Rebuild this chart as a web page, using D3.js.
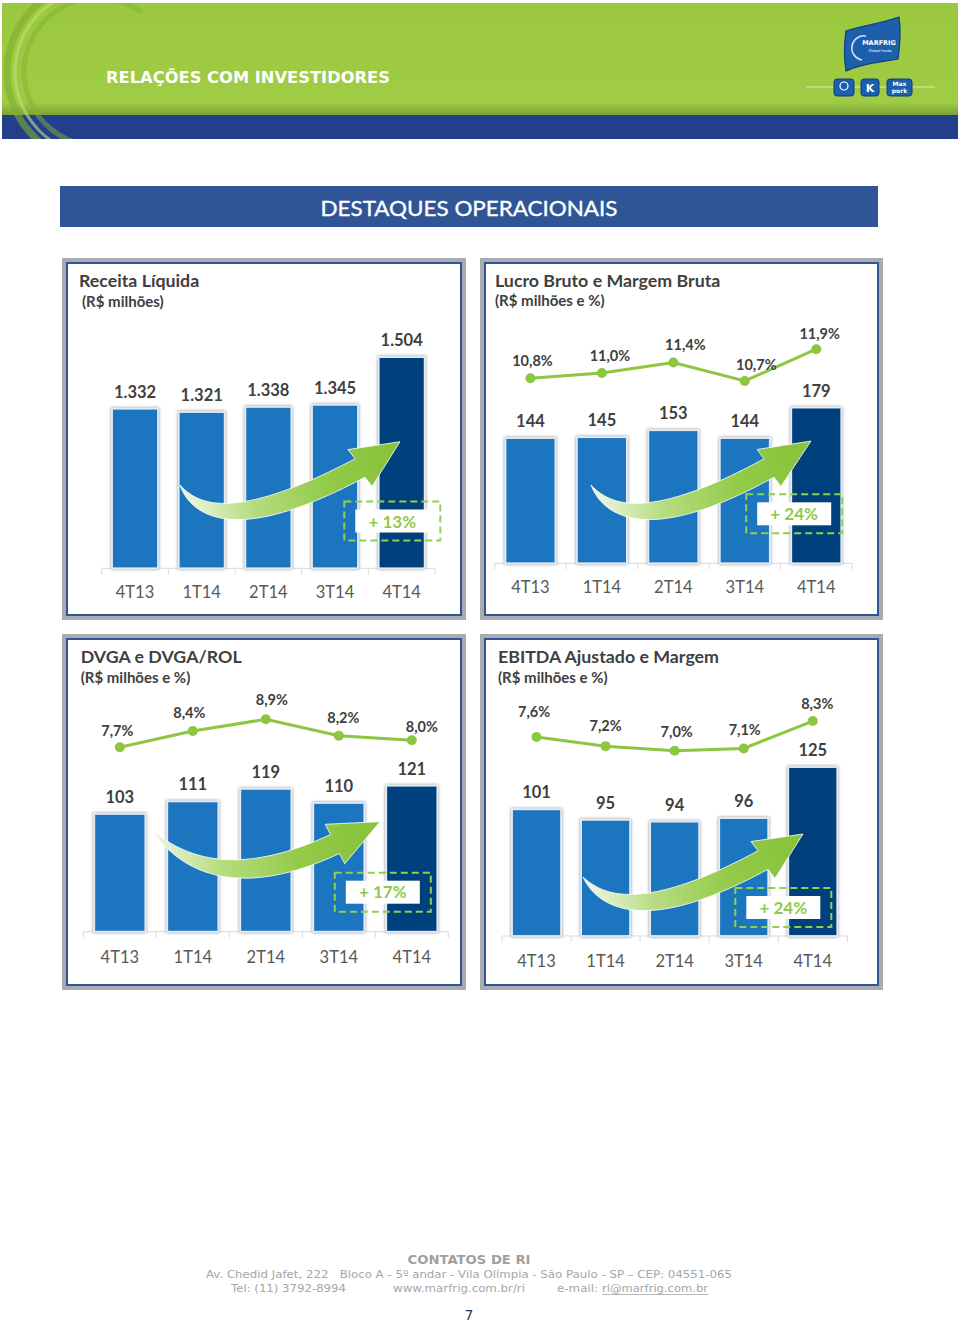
<!DOCTYPE html>
<html><head><meta charset="utf-8">
<script src="https://cdn.jsdelivr.net/npm/d3@7"></script>
<style>body{margin:0;background:#fff}svg{display:block}</style>
</head><body>
<svg id="c" width="960" height="1326"></svg>
<script>
// ---------- DATA ----------
const quarters = ["4T13", "1T14", "2T14", "3T14", "4T14"];
const receitaLiquida = [1332, 1321, 1338, 1345, 1504];
const lucroBruto = [144, 145, 153, 144, 179];
const margemBruta = [10.8, 11.0, 11.4, 10.7, 11.9];
const dvga = [103, 111, 119, 110, 121];
const dvgaRol = [7.7, 8.4, 8.9, 8.2, 8.0];
const ebitdaAjustado = [101, 95, 94, 96, 125];
const margemEbitda = [7.6, 7.2, 7.0, 7.1, 8.3];
const growthLabels = ["+ 13%", "+ 24%", "+ 17%", "+ 24%"];
const panelTitles = ["Receita Líquida", "Lucro Bruto e Margem Bruta", "DVGA e DVGA/ROL", "EBITDA Ajustado e Margem"];
const panelSubtitles = ["(R$ milhões)", "(R$ milhões e %)", "(R$ milhões e %)", "(R$ milhões e %)"];

// ---------- LAYOUT ----------
const layout = [
  {box:[62,258,404,362], tx:79, ty:287, sx:82, sy:307, ax:[101.7,435], base:568.3, dom:[800,1600], k:0.3, pad:0.31, catY:598,
   arrow:{T:[180,485],C:[215,545],H:[360,468],P:[400,441.7]}, boxC:[392.3,521], txtY:528.3},
  {box:[480,258,403,362], tx:495, ty:287, sx:495, sy:306, ax:[494.7,852], base:563.3, dom:[0,200], k:0.87, pad:0.3, catY:593.3,
   line:{dom:[10,12], range:[399.4,346.6], off:[[2,-12.6],[8,-12],[12,-12.5],[11.5,-11],[3.4,-10.3]]},
   arrow:{T:[591,485],C:[628,545],H:[769,468],P:[811,441]}, boxC:[794.2,513.8], txtY:520},
  {box:[62,634,404,356], tx:80.7, ty:663.3, sx:80.7, sy:683.3, ax:[83.3,448.3], base:931.7, dom:[28,128], k:1.57, pad:0.3, catY:963.3,
   line:{dom:[7,9], range:[763.6,717.0], off:[[-2.5,-11.3],[-3.5,-12.7],[6,-14.3],[4.5,-12.3],[10,-8.6]]},
   arrow:{T:[152,830],C:[215,900],H:[335,844],P:[380,821.7]}, boxC:[382.8,892.2], txtY:898.3},
  {box:[480,634,403,356], tx:498, ty:663.3, sx:498, sy:683.3, ax:[502,847.3], base:936, dom:[29,129], k:1.76, pad:0.29, catY:967.3,
   line:{dom:[7,9], range:[750.7,705.1], off:[[-2.5,-20],[0,-15],[2,-14],[1,-13.3],[4.5,-11.7]]},
   arrow:{T:[583,877],C:[625,935],H:[763,860],P:[803,834]}, boxC:[783.3,907.5], txtY:914}
];
const barSeries = [receitaLiquida, lucroBruto, dvga, ebitdaAjustado];
const lineSeries = [null, margemBruta, dvgaRol, margemEbitda];

const loc = d3.formatLocale({decimal:",", thousands:".", grouping:[3], currency:["R$",""]});
const fmtInt = loc.format(",d");
const fmtPct = v => loc.format(".1f")(v) + "%";

const svg = d3.select("#c");
const defs = svg.append("defs");

// ---------- HEADER ----------
const hg = defs.append("linearGradient").attr("id","hdr").attr("x1",0).attr("y1",0).attr("x2",0).attr("y2",1);
hg.append("stop").attr("offset",0).attr("stop-color","#9ac83e");
hg.append("stop").attr("offset",0.88).attr("stop-color","#9fcc44");
hg.append("stop").attr("offset",1).attr("stop-color","#7a9f35");
svg.append("rect").attr("x",2).attr("y",3).attr("width",956).attr("height",113).attr("fill","url(#hdr)");
svg.append("rect").attr("x",2).attr("y",115).attr("width",956).attr("height",24).attr("fill","#233f8b");

defs.append("clipPath").attr("id","hclip").append("rect").attr("x",2).attr("y",3).attr("width",956).attr("height",136);
const arcG = svg.append("g").attr("clip-path","url(#hclip)").append("g").attr("transform","translate(98,72)");
const arcs = [
  {r:91, w:7, s:0.95*Math.PI, e:2.1*Math.PI, c:"#7fae30", o:0.6},
  {r:83, w:3, s:0.95*Math.PI, e:2.15*Math.PI, c:"#c2e07c", o:0.6},
  {r:74, w:5, s:0.9*Math.PI, e:2.2*Math.PI, c:"#82b332", o:0.5}
];
arcs.forEach(a => {
  arcG.append("path").attr("d", d3.arc()({innerRadius:a.r-a.w/2, outerRadius:a.r+a.w/2, startAngle:a.s, endAngle:a.e}))
    .attr("fill", a.c).attr("opacity", a.o);
});
svg.append("rect").attr("x",0).attr("y",0).attr("width",960).attr("height",3).attr("fill","#fff");

svg.append("text").attr("x",106).attr("y",83).text("RELAÇÕES COM INVESTIDORES")
  .attr("font-family","DejaVu Sans").attr("font-weight","bold").attr("font-size",16)
  .attr("fill","#fff").attr("textLength",284).attr("lengthAdjust","spacingAndGlyphs");

// logo
const lg = svg.append("g");
lg.append("line").attr("x1",806).attr("x2",935).attr("y1",87).attr("y2",87).attr("stroke","#d8ecb4").attr("stroke-width",1);
lg.append("path").attr("d","M846,31 C862,26 882,23 899,17 C901,30 900,45 898,59 C882,62 862,63 846,71 C844,58 844,44 846,31 Z")
  .attr("fill","#1d5fad").attr("stroke","#0e3f7f").attr("stroke-width",1.2);
lg.append("path").attr("d","M866,36 A11,11 0 1 0 862,60").attr("fill","none").attr("stroke","#d6e8f7").attr("stroke-width",1.6);
lg.append("text").attr("x",879).attr("y",45).attr("text-anchor","middle").text("MARFRIG")
  .attr("font-family","DejaVu Sans").attr("font-weight","bold").attr("font-size",6.5).attr("fill","#fff");
lg.append("text").attr("x",880).attr("y",52).attr("text-anchor","middle").text("Global Foods")
  .attr("font-family","DejaVu Sans").attr("font-size",3.6).attr("fill","#fff");
[[834,79,20],[861,79,18],[887,79,25]].forEach(r => {
  lg.append("rect").attr("x",r[0]).attr("y",r[1]).attr("width",r[2]).attr("height",17).attr("rx",3)
    .attr("fill","#1d5fad").attr("stroke","#0e3f7f").attr("stroke-width",1);
});
lg.append("circle").attr("cx",844).attr("cy",86).attr("r",4).attr("fill","none").attr("stroke","#fff").attr("stroke-width",1.2);
lg.append("text").attr("x",870).attr("y",92).attr("text-anchor","middle").text("K")
  .attr("font-family","DejaVu Sans").attr("font-weight","bold").attr("font-size",11).attr("fill","#fff");
lg.append("text").attr("x",899.5).attr("y",86).attr("text-anchor","middle").text("Max")
  .attr("font-family","DejaVu Sans").attr("font-weight","bold").attr("font-size",6).attr("fill","#fff");
lg.append("text").attr("x",899.5).attr("y",93).attr("text-anchor","middle").text("pork")
  .attr("font-family","DejaVu Sans").attr("font-weight","bold").attr("font-size",6).attr("fill","#fff");

// ---------- TITLE BAR ----------
svg.append("rect").attr("x",60).attr("y",186).attr("width",818).attr("height",41).attr("fill","#2f5597");
svg.append("text").attr("x",469).attr("y",216).attr("text-anchor","middle").text("DESTAQUES OPERACIONAIS")
  .attr("font-family","Lato").attr("font-size",21.5).attr("fill","#fff").attr("stroke","#fff").attr("stroke-width",0.35)
  .attr("textLength",297).attr("lengthAdjust","spacingAndGlyphs");

// ---------- FILTERS ----------
const f = defs.append("filter").attr("id","glow").attr("x","-20%").attr("y","-20%").attr("width","140%").attr("height","140%");
f.append("feDropShadow").attr("dx",0).attr("dy",0).attr("stdDeviation",1.6).attr("flood-color","#6f6f6f").attr("flood-opacity",0.85);

// ---------- ARROW ----------
function quad(T,C,H,t){return [(1-t)*(1-t)*T[0]+2*t*(1-t)*C[0]+t*t*H[0], (1-t)*(1-t)*T[1]+2*t*(1-t)*C[1]+t*t*H[1]];}
function dquad(T,C,H,t){return [2*(1-t)*(C[0]-T[0])+2*t*(H[0]-C[0]), 2*(1-t)*(C[1]-T[1])+2*t*(H[1]-C[1])];}
function arrowPoints(a, W, headHalf){
  const N = 40, lower = [], upper = [];
  for (let i=0;i<=N;i++){
    const t=i/N, p=quad(a.T,a.C,a.H,t), d=dquad(a.T,a.C,a.H,t);
    const L=Math.hypot(d[0],d[1]), n=[-d[1]/L, d[0]/L];
    const hw = W/2*(1-Math.pow(1-t,2.6));
    lower.push([p[0]+n[0]*hw, p[1]+n[1]*hw]);
    upper.push([p[0]-n[0]*hw, p[1]-n[1]*hw]);
  }
  const dx=a.P[0]-a.H[0], dy=a.P[1]-a.H[1], L=Math.hypot(dx,dy);
  const perp=[-dy/L, dx/L];
  const w1=[a.H[0]+perp[0]*headHalf, a.H[1]+perp[1]*headHalf];
  const w2=[a.H[0]-perp[0]*headHalf, a.H[1]-perp[1]*headHalf];
  return lower.concat([w1, a.P, w2], upper.reverse());
}

// ---------- PANELS ----------
layout.forEach((L, pi) => {
  const [bx,by,bw,bh] = L.box;
  const g = svg.append("g");
  g.append("rect").attr("x",bx+2).attr("y",by+2).attr("width",bw-4).attr("height",bh-4)
    .attr("fill","#fff").attr("stroke","#a9abae").attr("stroke-width",4);
  g.append("rect").attr("x",bx+5).attr("y",by+5).attr("width",bw-10).attr("height",bh-10)
    .attr("fill","none").attr("stroke","#2f5597").attr("stroke-width",2);

  g.append("text").attr("x",L.tx).attr("y",L.ty).text(panelTitles[pi])
    .attr("font-family","Lato").attr("font-weight","bold").attr("font-size",17.8).attr("fill","#404040");
  g.append("text").attr("x",L.sx).attr("y",L.sy).text(panelSubtitles[pi])
    .attr("font-family","Lato").attr("font-weight","bold").attr("font-size",15).attr("fill","#404040");

  const data = barSeries[pi];
  const x = d3.scaleBand().domain(quarters).range(L.ax).paddingInner(L.pad).paddingOuter(L.pad/2);
  const y = d3.scaleLinear().domain(L.dom).range([L.base, L.base - (L.dom[1]-L.dom[0])*L.k]);

  g.append("line").attr("x1",L.ax[0]).attr("x2",L.ax[1]).attr("y1",L.base).attr("y2",L.base)
    .attr("stroke","#d9d9d9").attr("stroke-width",1);
  d3.range(quarters.length+1).forEach(i => {
    const tx = L.ax[0] + x.step()*i;
    g.append("line").attr("x1",tx).attr("x2",tx).attr("y1",L.base).attr("y2",L.base+6)
      .attr("stroke","#d9d9d9").attr("stroke-width",1);
  });
  const axG = g.append("g").attr("transform",`translate(0,${L.base})`)
    .call(d3.axisBottom(x).tickSize(0).tickPadding(0));
  axG.select(".domain").remove();
  axG.selectAll("text").attr("y", L.catY - L.base).attr("dy",0)
    .attr("font-family","Lato").attr("font-size",16.5).attr("fill","#595959");

  g.selectAll(".bar").data(data).enter().append("rect")
    .attr("x",(d,i)=>x(quarters[i])).attr("y",d=>y(d))
    .attr("width",x.bandwidth()).attr("height",d=>L.base-y(d))
    .attr("fill",(d,i)=> i===data.length-1 ? "#023f7c" : "#1f76bf")
    .attr("stroke","#e3ecf5").attr("stroke-width",1.8).attr("filter","url(#glow)");
  g.selectAll(".vl").data(data).enter().append("text")
    .attr("x",(d,i)=>x(quarters[i])+x.bandwidth()/2).attr("y",d=>y(d)-11)
    .attr("text-anchor","middle").text(d=>fmtInt(d))
    .attr("font-family","Lato").attr("font-weight","bold").attr("font-size",16.5).attr("fill","#404040");

  const ls = lineSeries[pi];
  if (ls){
    const yl = d3.scaleLinear().domain(L.line.dom).range(L.line.range);
    const cx = i => x(quarters[i]) + x.bandwidth()/2;
    g.append("path").attr("d", d3.line().x((d,i)=>cx(i)).y(d=>yl(d))(ls))
      .attr("fill","none").attr("stroke","#8dc63f").attr("stroke-width",3);
    g.selectAll(".dot").data(ls).enter().append("circle")
      .attr("cx",(d,i)=>cx(i)).attr("cy",d=>yl(d)).attr("r",5).attr("fill","#8dc63f");
    g.selectAll(".pl").data(ls).enter().append("text")
      .attr("x",(d,i)=>cx(i)+L.line.off[i][0]).attr("y",(d,i)=>yl(d)+L.line.off[i][1]).attr("text-anchor","middle").text(d=>fmtPct(d))
      .attr("font-family","Lato").attr("font-weight","bold").attr("font-size",14.5).attr("fill","#404040");
  }

  const a = L.arrow;
  const gid = "ag"+pi;
  const gr = defs.append("linearGradient").attr("id",gid).attr("gradientUnits","userSpaceOnUse")
    .attr("x1",a.T[0]).attr("y1",a.T[1]).attr("x2",a.P[0]).attr("y2",a.P[1]);
  gr.append("stop").attr("offset",0).attr("stop-color","#eef7e2");
  gr.append("stop").attr("offset",0.3).attr("stop-color","#b5dc7e");
  gr.append("stop").attr("offset",0.65).attr("stop-color","#93ca48");
  gr.append("stop").attr("offset",1).attr("stop-color","#86c23a");
  g.append("path").attr("d", d3.line()(arrowPoints(a, 21, 22)) + "Z")
    .attr("fill",`url(#${gid})`).attr("stroke","#ffffff").attr("stroke-width",1).attr("stroke-opacity",0.8);

  const [gx,gy] = L.boxC;
  g.append("rect").attr("x",gx-48).attr("y",gy-19.5).attr("width",96).attr("height",39)
    .attr("fill","none").attr("stroke","#8fd04e").attr("stroke-width",2).attr("stroke-dasharray","7,4");
  g.append("rect").attr("x",gx-37).attr("y",gy-11.5).attr("width",74).attr("height",23).attr("fill","#fff");
  g.append("text").attr("x",gx).attr("y",L.txtY).attr("text-anchor","middle").text(growthLabels[pi])
    .attr("font-family","Lato").attr("font-weight","bold").attr("font-size",17).attr("fill","#92c94c");
});

// ---------- FOOTER ----------
const ff = "DejaVu Sans", fc = "#a6a6a6";
svg.append("text").attr("x",469).attr("y",1264).attr("text-anchor","middle").text("CONTATOS DE RI")
  .attr("font-family",ff).attr("font-weight","bold").attr("font-size",12.5).attr("fill","#9f9f9f")
  .attr("textLength",123).attr("lengthAdjust","spacingAndGlyphs");
svg.append("text").attr("x",206).attr("y",1278)
  .text("Av. Chedid Jafet, 222   Bloco A - 5º andar - Vila Olímpia - São Paulo - SP – CEP: 04551-065")
  .style("white-space","pre")
  .attr("font-family",ff).attr("font-size",11).attr("fill",fc)
  .attr("textLength",526).attr("lengthAdjust","spacingAndGlyphs");
svg.append("text").attr("x",231).attr("y",1292).text("Tel: (11) 3792-8994")
  .attr("font-family",ff).attr("font-size",11).attr("fill",fc).attr("textLength",115).attr("lengthAdjust","spacingAndGlyphs");
svg.append("text").attr("x",393).attr("y",1292).text("www.marfrig.com.br/ri")
  .attr("font-family",ff).attr("font-size",11).attr("fill",fc).attr("textLength",132).attr("lengthAdjust","spacingAndGlyphs");
svg.append("text").attr("x",557).attr("y",1292).text("e-mail:")
  .attr("font-family",ff).attr("font-size",11).attr("fill",fc).attr("textLength",41).attr("lengthAdjust","spacingAndGlyphs");
svg.append("text").attr("x",602).attr("y",1292).text("ri@marfrig.com.br")
  .attr("font-family",ff).attr("font-size",11).attr("fill",fc)
  .attr("textLength",106).attr("lengthAdjust","spacingAndGlyphs");
svg.append("line").attr("x1",602).attr("x2",708).attr("y1",1294.5).attr("y2",1294.5).attr("stroke",fc).attr("stroke-width",0.8);
svg.append("text").attr("x",469).attr("y",1320).attr("text-anchor","middle").text("7")
  .attr("font-family",ff).attr("font-size",14).attr("fill","#1f3864");
</script>
</body></html>
